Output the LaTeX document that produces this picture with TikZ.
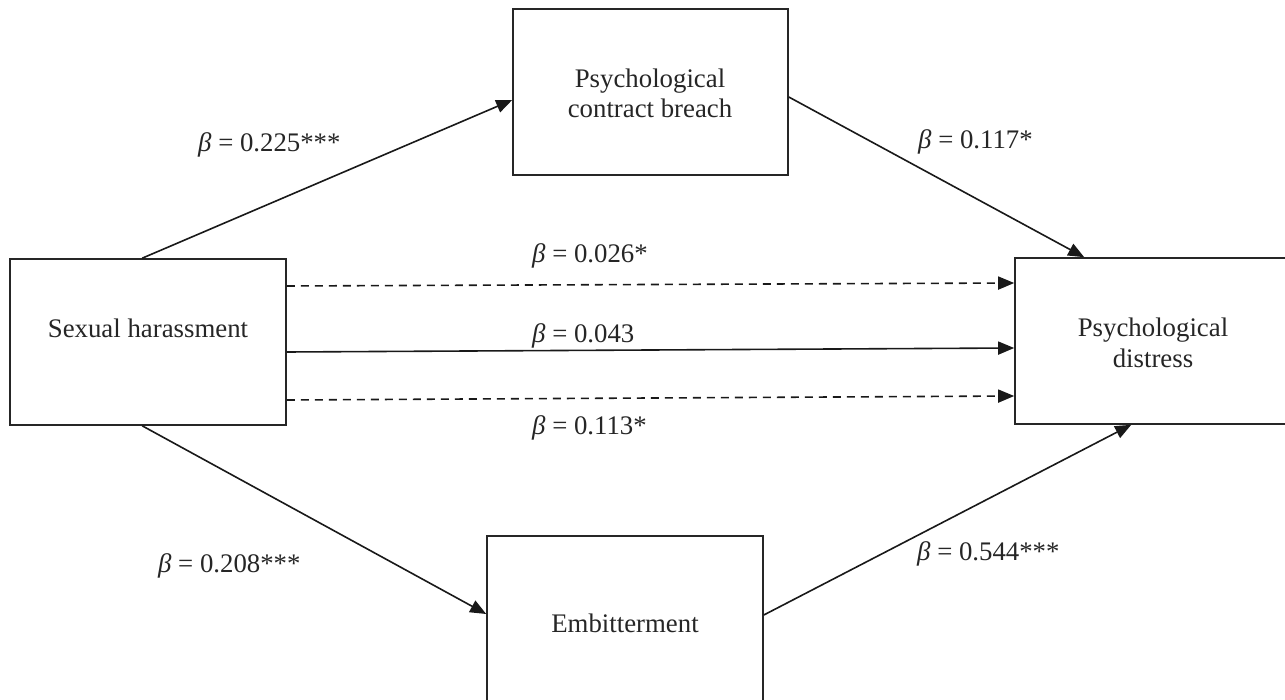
\documentclass[tikz,border=0pt]{standalone}
\usepackage{fontspec}
\setmainfont{Liberation Serif}
\usetikzlibrary{arrows.meta}
\begin{document}
\begin{tikzpicture}[x=1pt,y=-1pt,
  box/.style={draw=black!85, line width=1.6pt, minimum width=276pt, minimum height=166pt, inner sep=0pt},
  txt/.style={font=\fontsize{26.8pt}{31pt}\selectfont, text=black!85, inner sep=0pt, anchor=base, align=center},
  lbl/.style={font=\fontsize{26.8pt}{31pt}\selectfont, text=black!85, inner sep=0pt, anchor=base west},
  conn/.style={draw=black!90, line width=1.6pt, -{Triangle[length=16pt,width=13pt]}},
  dashline/.style={conn, dash pattern=on 8pt off 6pt}
]
\useasboundingbox (0,0) rectangle (1285,700);
\fill[white] (0,0) rectangle (1285,700);
\clip (0,0) rectangle (1285,700);

% boxes
\node[box] (sh) at (148,342) {};
\node[box, minimum width=275pt] (pcb) at (650.5,92) {};
\node[box] (pd) at (1153,341) {};
\node[box] (emb) at (625,619) {};

% box texts
\node[txt] (tsh) at (148,338) {Sexual harassment};
\node[txt] (tpcb1) at (650,88) {Psychological};
\node[txt] (tpcb2) at (650,118) {contract breach};
\node[txt] (tpd1) at (1153,337) {Psychological};
\node[txt] (tpd2) at (1153,368) {distress};
\node[txt] (temb) at (625,632) {Embitterment};

% connectors
\draw[conn] ([xshift=133pt]sh.north west) -- ([yshift=-8pt]pcb.west);
\draw[conn] ([xshift=133pt]sh.south west) -- ([yshift=5pt]emb.west);
\draw[conn] ([yshift=-5pt]pcb.east) -- ([xshift=70pt]pd.north west);
\draw[conn] ([yshift=4pt]emb.east) -- ([xshift=117pt]pd.south west);
\draw[dashline] ([yshift=56pt]sh.east) -- ([yshift=58pt]pd.west);
\draw[conn] ([yshift=-10pt]sh.east) -- ([yshift=-7pt]pd.west);
\draw[dashline] ([yshift=-58pt]sh.east) -- ([yshift=-55pt]pd.west);

% labels
\node[lbl] (l1) at (198,152) {{\itshape β} = 0.225***};
\node[lbl] (l2) at (918,149) {{\itshape β} = 0.117*};
\node[lbl] (l3) at (532,263) {{\itshape β} = 0.026*};
\node[lbl] (l4) at (532,343) {{\itshape β} = 0.043};
\node[lbl] (l5) at (532,435) {{\itshape β} = 0.113*};
\node[lbl] (l6) at (158,572) {{\itshape β} = 0.208***};
\node[lbl] (l7) at (917,560) {{\itshape β} = 0.544***};
\end{tikzpicture}
\end{document}
